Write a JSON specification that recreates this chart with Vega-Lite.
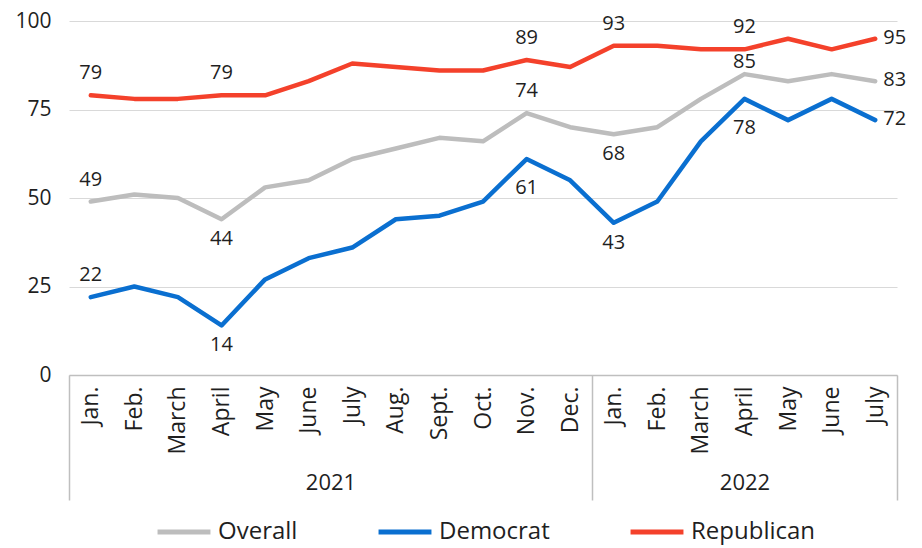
{
  "$schema": "https://vega.github.io/schema/vega-lite/v6.json",
  "width": 828,
  "height": 354,
  "autosize": {"type": "none"},
  "padding": {"left": 69, "top": 21, "right": 25, "bottom": 173},
  "config": {
    "view": {"stroke": null},
    "font": "Open Sans",
    "legend": {"padding": 0},
    "axis": {"labelColor": "#1f1f1f"}
  },
  "layer": [
    {
      "data": {
        "values": [
          {"t": "2021-01", "series": "Overall", "value": 49},
          {"t": "2021-02", "series": "Overall", "value": 51},
          {"t": "2021-03", "series": "Overall", "value": 50},
          {"t": "2021-04", "series": "Overall", "value": 44},
          {"t": "2021-05", "series": "Overall", "value": 53},
          {"t": "2021-06", "series": "Overall", "value": 55},
          {"t": "2021-07", "series": "Overall", "value": 61},
          {"t": "2021-08", "series": "Overall", "value": 64},
          {"t": "2021-09", "series": "Overall", "value": 67},
          {"t": "2021-10", "series": "Overall", "value": 66},
          {"t": "2021-11", "series": "Overall", "value": 74},
          {"t": "2021-12", "series": "Overall", "value": 70},
          {"t": "2022-01", "series": "Overall", "value": 68},
          {"t": "2022-02", "series": "Overall", "value": 70},
          {"t": "2022-03", "series": "Overall", "value": 78},
          {"t": "2022-04", "series": "Overall", "value": 85},
          {"t": "2022-05", "series": "Overall", "value": 83},
          {"t": "2022-06", "series": "Overall", "value": 85},
          {"t": "2022-07", "series": "Overall", "value": 83},
          {"t": "2021-01", "series": "Democrat", "value": 22},
          {"t": "2021-02", "series": "Democrat", "value": 25},
          {"t": "2021-03", "series": "Democrat", "value": 22},
          {"t": "2021-04", "series": "Democrat", "value": 14},
          {"t": "2021-05", "series": "Democrat", "value": 27},
          {"t": "2021-06", "series": "Democrat", "value": 33},
          {"t": "2021-07", "series": "Democrat", "value": 36},
          {"t": "2021-08", "series": "Democrat", "value": 44},
          {"t": "2021-09", "series": "Democrat", "value": 45},
          {"t": "2021-10", "series": "Democrat", "value": 49},
          {"t": "2021-11", "series": "Democrat", "value": 61},
          {"t": "2021-12", "series": "Democrat", "value": 55},
          {"t": "2022-01", "series": "Democrat", "value": 43},
          {"t": "2022-02", "series": "Democrat", "value": 49},
          {"t": "2022-03", "series": "Democrat", "value": 66},
          {"t": "2022-04", "series": "Democrat", "value": 78},
          {"t": "2022-05", "series": "Democrat", "value": 72},
          {"t": "2022-06", "series": "Democrat", "value": 78},
          {"t": "2022-07", "series": "Democrat", "value": 72},
          {"t": "2021-01", "series": "Republican", "value": 79},
          {"t": "2021-02", "series": "Republican", "value": 78},
          {"t": "2021-03", "series": "Republican", "value": 78},
          {"t": "2021-04", "series": "Republican", "value": 79},
          {"t": "2021-05", "series": "Republican", "value": 79},
          {"t": "2021-06", "series": "Republican", "value": 83},
          {"t": "2021-07", "series": "Republican", "value": 88},
          {"t": "2021-08", "series": "Republican", "value": 87},
          {"t": "2021-09", "series": "Republican", "value": 86},
          {"t": "2021-10", "series": "Republican", "value": 86},
          {"t": "2021-11", "series": "Republican", "value": 89},
          {"t": "2021-12", "series": "Republican", "value": 87},
          {"t": "2022-01", "series": "Republican", "value": 93},
          {"t": "2022-02", "series": "Republican", "value": 93},
          {"t": "2022-03", "series": "Republican", "value": 92},
          {"t": "2022-04", "series": "Republican", "value": 92},
          {"t": "2022-05", "series": "Republican", "value": 95},
          {"t": "2022-06", "series": "Republican", "value": 92},
          {"t": "2022-07", "series": "Republican", "value": 95}
        ]
      },
      "encoding": {
        "x": {
          "field": "t",
          "type": "ordinal",
          "scale": {"type": "point", "padding": 0.5},
          "axis": {
            "title": null,
            "orient": "bottom",
            "ticks": false,
            "grid": false,
            "domainColor": "#bfbfbf",
            "domainWidth": 1.5,
            "labelAngle": 270,
            "labelPadding": 11,
            "labelFontSize": 23,
            "labelExpr": "['Jan.','Feb.','March','April','May','June','July','Aug.','Sept.','Oct.','Nov.','Dec.'][toNumber(slice(datum.value,5))-1]"
          }
        },
        "y": {
          "field": "value",
          "type": "quantitative",
          "scale": {"domain": [0, 100], "nice": false},
          "axis": {
            "title": null,
            "values": [0, 25, 50, 75, 100],
            "domain": false,
            "ticks": false,
            "gridColor": "#d9d9d9",
            "gridWidth": 1.2,
            "labelFontSize": 21,
            "labelPadding": 18
          }
        }
      },
      "layer": [
        {
          "mark": {"type": "line", "strokeWidth": 4.5, "strokeJoin": "round", "strokeCap": "round"},
          "encoding": {
            "color": {
              "field": "series",
              "type": "nominal",
              "scale": {"domain": ["Overall", "Democrat", "Republican"], "range": ["#bdbdbd", "#0a6fd0", "#f4412b"]},
              "legend": {
                "title": null,
                "orient": "none",
                "direction": "horizontal",
                "legendX": 86,
                "legendY": 482,
                "symbolType": "stroke",
                "symbolStrokeWidth": 5,
                "symbolSize": 2800,
                "labelFontSize": 24,
                "labelColor": "#1f1f1f",
                "labelOffset": 5,
                "columnPadding": 70
              }
            }
          }
        },
        {
          "transform": [{"filter": "(datum.series=='Republican' && indexof(['2021-01','2021-04','2021-11','2022-01','2022-04'], datum.t) >= 0) || (datum.series=='Overall' && indexof(['2021-01','2021-11'], datum.t) >= 0) || (datum.series=='Democrat' && datum.t=='2021-01')"}],
          "mark": {"type": "text", "fontSize": 20, "dy": -22, "color": "#1f1f1f"},
          "encoding": {"text": {"field": "value", "type": "quantitative"}}
        },
        {
          "transform": [{"filter": "datum.series=='Overall' && datum.t=='2022-04'"}],
          "mark": {"type": "text", "fontSize": 20, "dy": -12, "color": "#1f1f1f"},
          "encoding": {"text": {"field": "value", "type": "quantitative"}}
        },
        {
          "transform": [{"filter": "(datum.series=='Overall' || datum.series=='Democrat') && indexof(['2021-04','2022-01'], datum.t) >= 0"}],
          "mark": {"type": "text", "fontSize": 20, "dy": 20, "color": "#1f1f1f"},
          "encoding": {"text": {"field": "value", "type": "quantitative"}}
        },
        {
          "transform": [{"filter": "datum.series=='Democrat' && indexof(['2021-11','2022-04'], datum.t) >= 0"}],
          "mark": {"type": "text", "fontSize": 20, "dy": 29, "color": "#1f1f1f"},
          "encoding": {"text": {"field": "value", "type": "quantitative"}}
        },
        {
          "transform": [{"filter": "datum.t=='2022-07'"}],
          "mark": {"type": "text", "fontSize": 20, "align": "left", "dx": 8, "dy": -1, "color": "#1f1f1f"},
          "encoding": {"text": {"field": "value", "type": "quantitative"}}
        }
      ]
    },
    {
      "data": {"values": [{"s": 0}, {"s": 12}, {"s": 19}]},
      "mark": {"type": "point", "opacity": 0},
      "encoding": {
        "x": {
          "field": "s",
          "type": "quantitative",
          "scale": {"domain": [0, 19], "nice": false, "zero": false},
          "axis": {
            "title": null,
            "orient": "bottom",
            "values": [0, 12, 19],
            "labels": false,
            "domain": false,
            "grid": false,
            "ticks": true,
            "tickSize": 125,
            "tickColor": "#bfbfbf",
            "tickWidth": 1.5
          }
        }
      }
    },
    {
      "data": {"values": [{"s": 6}, {"s": 15.5}]},
      "mark": {"type": "point", "opacity": 0},
      "encoding": {
        "x": {
          "field": "s",
          "type": "quantitative",
          "scale": {"domain": [0, 19], "nice": false, "zero": false},
          "axis": {
            "title": null,
            "orient": "bottom",
            "values": [6, 15.5],
            "labelExpr": "datum.value == 6 ? '2021' : '2022'",
            "domain": false,
            "grid": false,
            "ticks": false,
            "labelFontSize": 22,
            "labelPadding": 97
          }
        }
      }
    }
  ],
  "resolve": {"scale": {"x": "independent"}}
}
